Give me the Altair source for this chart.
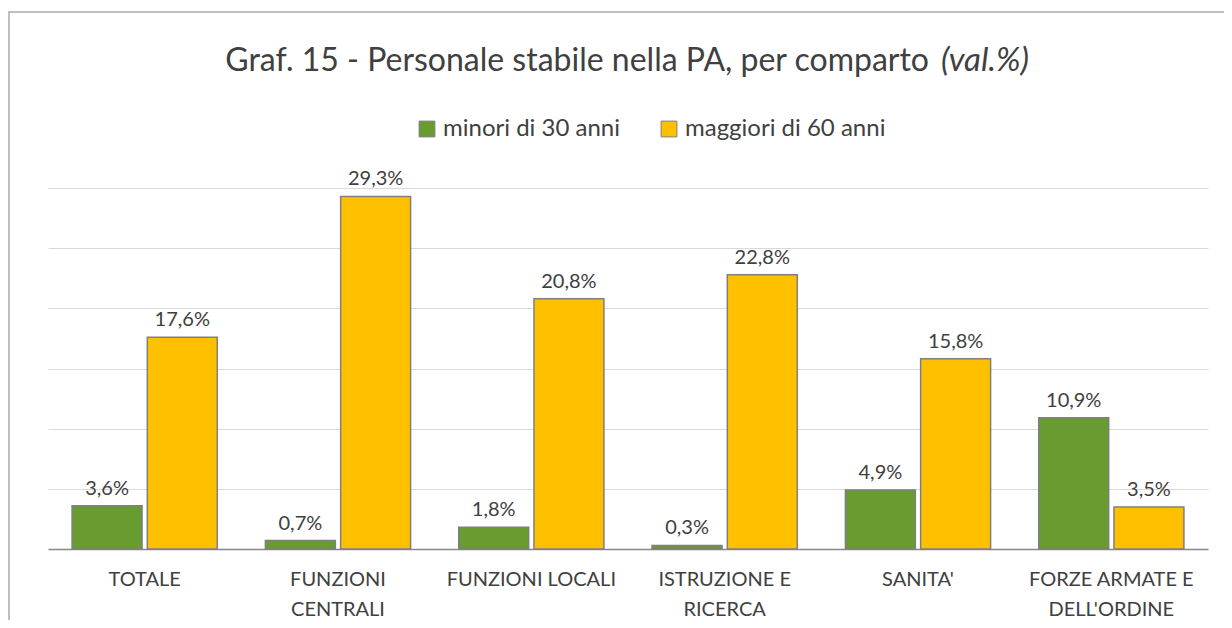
import altair as alt
import pandas as pd

# ---- data ----
categories = ["TOTALE", "FUNZIONI|CENTRALI", "FUNZIONI LOCALI",
              "ISTRUZIONE E|RICERCA", "SANITA'", "FORZE ARMATE E|DELL'ORDINE"]
series = ["minori di 30 anni", "maggiori di 60 anni"]
under30 = [3.6, 0.7, 1.8, 0.3, 4.9, 10.9]
over60 = [17.6, 29.3, 20.8, 22.8, 15.8, 3.5]
colors = ["#689B30", "#FFC000"]
title_main = "Graf. 15 - Personale stabile nella PA, per comparto"
title_italic = "(val.%)"

rows = []
for c, a, b in zip(categories, under30, over60):
    rows.append({"cat": c, "serie": series[0], "val": a})
    rows.append({"cat": c, "serie": series[1], "val": b})
df = pd.DataFrame(rows)
df["lab"] = df["val"].map(lambda v: f"{v:.1f}%".replace(".", ","))

FONT = "Lato"
TEXT = "#404040"
W, H = 1160, 361

x_enc = alt.X(
    "cat:N", sort=categories,
    scale=alt.Scale(paddingInner=0, paddingOuter=0),
    axis=alt.Axis(title=None, labelExpr="split(datum.label, '|')", labelAngle=0,
                  ticks=False, domainColor="#898989", domainWidth=1.5,
                  labelFontSize=20, labelFont=FONT, labelColor=TEXT,
                  labelPadding=20, labelLineHeight=30),
)
xo_enc = alt.XOffset("serie:N", sort=series,
                     scale=alt.Scale(paddingInner=0.07, paddingOuter=0.32))
y_enc = alt.Y("val:Q", scale=alt.Scale(domain=[0, 30], nice=False),
              axis=alt.Axis(title=None, labels=False, ticks=False, domain=False,
                            grid=True, gridColor="#d9d9d9", gridWidth=1, tickCount=6))

base = alt.Chart(df)

bars = base.mark_bar(stroke="#7f7f7f", strokeWidth=1.5).encode(
    x=x_enc, xOffset=xo_enc, y=y_enc,
    color=alt.Color("serie:N", sort=series,
                    scale=alt.Scale(domain=series, range=colors),
                    legend=alt.Legend(orient="none", legendX=367, legendY=-71,
                                      direction="horizontal", title=None,
                                      symbolType="square", symbolSize=250,
                                      symbolStrokeColor="#7f7f7f", symbolStrokeWidth=1,
                                      labelFontSize=24, labelFont=FONT, labelColor=TEXT,
                                      labelLimit=0,
                                      columnPadding=37, labelOffset=4, padding=0)),
)

labels = base.mark_text(dy=-11, baseline="alphabetic", fontSize=20, font=FONT,
                        color=TEXT).encode(
    x=x_enc, xOffset=xo_enc, y=y_enc, text="lab:N")

frame = alt.Chart(pd.DataFrame({"k": [0]})).mark_rect(
    fillOpacity=0, stroke="#bfbfbf", strokeWidth=2).encode(
    x=alt.value(-39), x2=alt.value(W + 200), y=alt.value(-176), y2=alt.value(H + 200))

t_main = alt.Chart(pd.DataFrame({"t": [title_main]})).mark_text(
    align="right", baseline="alphabetic", fontSize=32, font=FONT, color=TEXT).encode(
    x=alt.value(881), y=alt.value(-117), text="t:N")
t_it = alt.Chart(pd.DataFrame({"t": [title_italic]})).mark_text(
    align="left", baseline="alphabetic", fontSize=33, font=FONT, color=TEXT,
    fontStyle="italic").encode(
    x=alt.value(893), y=alt.value(-117), text="t:N")

chart = alt.layer(frame, t_main, t_it, bars, labels).properties(
    width=W, height=H,
    autosize=alt.AutoSizeParams(type="none"),
    padding={"left": 40, "top": 180, "right": 16, "bottom": 71},
).configure_view(stroke=None)

chart.save("out.html", embed_options={"renderer": "svg", "actions": False})
